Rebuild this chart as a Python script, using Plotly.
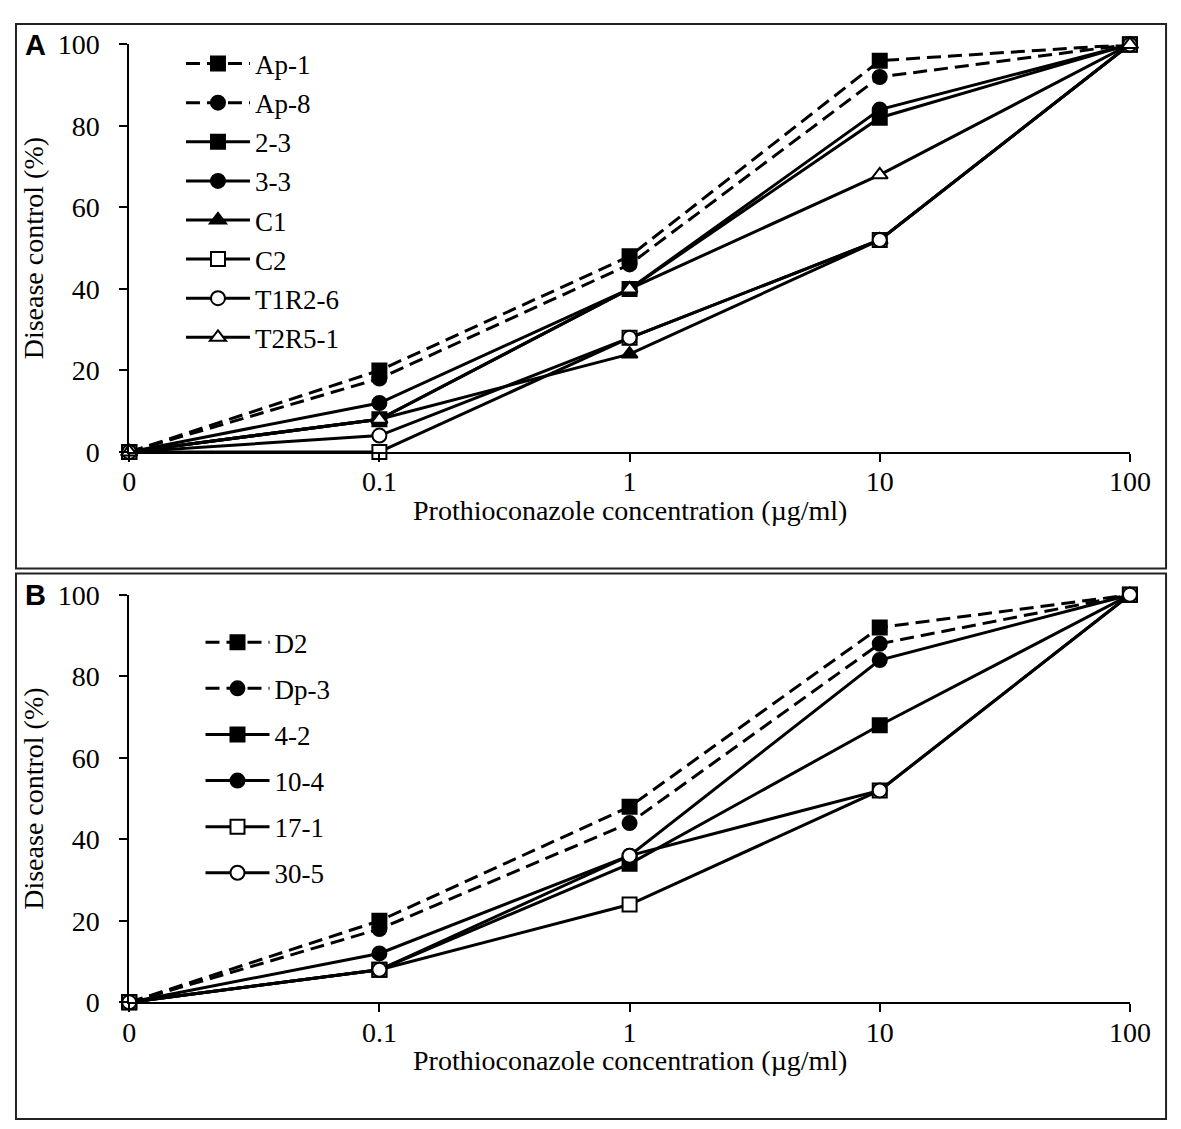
import plotly.graph_objects as go

# x categories (prothioconazole concentration, ug/ml)
conc = ["0", "0.1", "1", "10", "100"]

# Panel A isolates
names_a = ["Ap-1", "Ap-8", "2-3", "3-3", "C1", "C2", "T1R2-6", "T2R5-1"]
ap_1 = [0, 20, 48, 96, 100]
ap_8 = [0, 18, 46, 92, 100]
i_2_3 = [0, 8, 40, 82, 100]
i_3_3 = [0, 12, 40, 84, 100]
c1 = [0, 8, 24, 52, 100]
c2 = [0, 0, 28, 52, 100]
t1r2_6 = [0, 4, 28, 52, 100]
t2r5_1 = [0, 8, 40, 68, 100]
values_a = [ap_1, ap_8, i_2_3, i_3_3, c1, c2, t1r2_6, t2r5_1]

# Panel B isolates
names_b = ["D2", "Dp-3", "4-2", "10-4", "17-1", "30-5"]
d2 = [0, 20, 48, 92, 100]
dp_3 = [0, 18, 44, 88, 100]
i_4_2 = [0, 8, 34, 68, 100]
i_10_4 = [0, 12, 36, 84, 100]
i_17_1 = [0, 8, 24, 52, 100]
i_30_5 = [0, 8, 36, 52, 100]
values_b = [d2, dp_3, i_4_2, i_10_4, i_17_1, i_30_5]

# marker / line styles per series
styles_a = [("square", "black", "dash"), ("circle", "black", "dash"),
            ("square", "black", "solid"), ("circle", "black", "solid"),
            ("triangle-up", "black", "solid"), ("square", "white", "solid"),
            ("circle", "white", "solid"), ("triangle-up", "white", "solid")]
styles_b = [("square", "black", "dash"), ("circle", "black", "dash"),
            ("square", "black", "solid"), ("circle", "black", "solid"),
            ("square", "white", "solid"), ("circle", "white", "solid")]

W, H = 1181, 1129
FONT = "Liberation Serif, Times New Roman, serif"
X_TITLE = "Prothioconazole concentration (µg/ml)"

fig = go.Figure()


def add_panel(names, values, styles, xa, ya, legend):
    for i, (name, vals, (sym, fill, dash)) in enumerate(zip(names, values, styles)):
        fig.add_trace(go.Scatter(
            x=conc, y=vals, name=name, mode="lines+markers",
            xaxis=xa, yaxis=ya, legend=legend, legendgroup=legend + str(i),
            line=dict(color="black", width=3, dash="14px,7px" if dash == "dash" else "solid"),
            marker=dict(symbol=sym, size=14, color=fill,
                        line=dict(color="black", width=2)),
            cliponaxis=False,
        ))


add_panel(names_a, values_a, styles_a, "x", "y", "legend")
add_panel(names_b, values_b, styles_b, "x2", "y2", "legend2")

xdom = [117 / W, 1142 / W]
ya_dom = [1 - 441 / H, 1 - 22 / H]
yb_dom = [1 - 1007 / H, 1 - 588 / H]

axis_x = dict(type="category", categoryorder="array", categoryarray=conc,
              range=[0, 4], domain=xdom, showline=True, linecolor="black",
              linewidth=2, ticks="outside", ticklen=8, tickcolor="black",
              tickwidth=2, showgrid=False, zeroline=False,
              ticklabelstandoff=-4,
              tickfont=dict(family=FONT, size=28, color="black"))
axis_y = dict(range=[0, 100], tickvals=[0, 20, 40, 60, 80, 100],
              showline=True, linecolor="black", linewidth=2,
              ticks="outside", ticklen=8, tickcolor="black", tickwidth=2,
              showgrid=False, zeroline=False,
              ticklabelstandoff=14,
              tickfont=dict(family=FONT, size=28, color="black"),
              title=dict(text="Disease control (%)",
                         font=dict(family=FONT, size=28, color="black"),
                         standoff=6))

legend_common = dict(font=dict(family=FONT, size=27, color="black"),
                     bgcolor="rgba(0,0,0,0)",
                     xanchor="left", yanchor="top", itemwidth=64)

fig.update_layout(
    width=W, height=H,
    margin=dict(l=0, r=0, t=0, b=0),
    paper_bgcolor="white", plot_bgcolor="white",
    showlegend=True,
    xaxis=dict(axis_x, anchor="y"),
    yaxis=dict(axis_y, domain=ya_dom, anchor="x"),
    xaxis2=dict(axis_x, anchor="y2"),
    yaxis2=dict(axis_y, domain=yb_dom, anchor="x2"),
    legend=dict(legend_common, x=170 / W, y=1 - 17 / H, tracegroupgap=1),
    legend2=dict(legend_common, x=190 / W, y=1 - 612 / H, tracegroupgap=8),
)

# panel frames
fig.add_shape(type="rect", xref="paper", yref="paper",
              x0=1 / W, x1=1179 / W, y0=1 - 561 / H, y1=1 - 1 / H,
              line=dict(color="#222222", width=2))
fig.add_shape(type="rect", xref="paper", yref="paper",
              x0=1 / W, x1=1179 / W, y0=1 - 1127 / H, y1=1 - 566 / H,
              line=dict(color="#222222", width=2))

# x-axis titles
for ypix in [501, 1067]:
    fig.add_annotation(text=X_TITLE, xref="paper", yref="paper",
                       x=(117 + 1142) / 2 / W, y=1 - ypix / H,
                       xanchor="center", yanchor="middle", showarrow=False,
                       font=dict(family=FONT, size=28, color="black"))

# panel letters
for letter, ypix in [("A", 23), ("B", 588)]:
    fig.add_annotation(text="<b>" + letter + "</b>", xref="paper", yref="paper",
                       x=8 / W, y=1 - ypix / H, xanchor="left", yanchor="middle",
                       showarrow=False,
                       font=dict(family="Liberation Sans, Arial, sans-serif",
                                 size=29, color="black"))

fig.write_html("out.html")
